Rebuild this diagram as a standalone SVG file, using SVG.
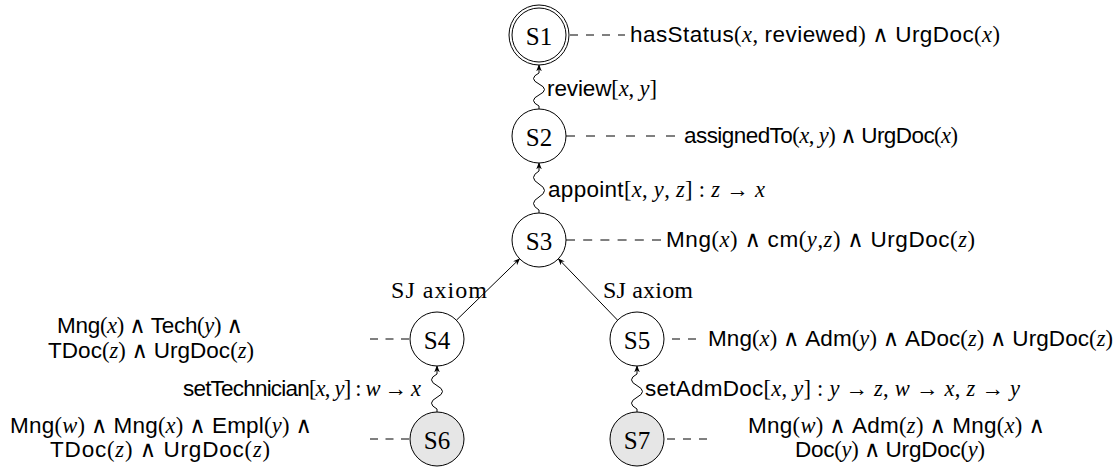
<svg xmlns="http://www.w3.org/2000/svg" width="1119" height="467" viewBox="0 0 1119 467">
<defs>
<style>
.node{fill:#fff;stroke:#000;stroke-width:1}
.init{fill:#e6e6e6;stroke:#000;stroke-width:1}
.nl{font-family:"Liberation Serif",serif;font-size:25px;text-anchor:middle;dominant-baseline:central}
.t{font-family:"Liberation Sans",sans-serif;font-size:22.5px;fill:#000}
.i{font-family:"Liberation Serif",serif;font-style:italic}
.r{font-family:"Liberation Serif","DejaVu Serif",serif}
.s{font-family:"Liberation Serif",serif;font-size:24px;fill:#000}
.dash{fill:none;stroke:#000;stroke-width:1;stroke-dasharray:8 8}
.edge{fill:none;stroke:#000;stroke-width:1}
</style>
<marker id="ah" viewBox="0 0 10 10" refX="9" refY="5" markerWidth="7" markerHeight="7" orient="auto" markerUnits="userSpaceOnUse">
<path d="M0,1 L10,5 L0,9 L3,5 Z" fill="#000"/>
</marker>
</defs>
<rect width="1119" height="467" fill="#fff"/>
<g id="connectors">
<path class="edge" marker-end="url(#ah)" d="M539,109 l0,-3 q-11,-5.5 0,-11 q11,-5.5 0,-11 q-11,-5.5 0,-11 l0,-8"/>
<path class="edge" marker-end="url(#ah)" d="M539,213 l0,-3 q-11,-6.5 0,-13 q11,-6.5 0,-13 q-11,-6.5 0,-13 l0,-8"/>
<path class="edge" marker-end="url(#ah)" d="M437,412 l0,-3 q-11,-5.8 0,-11.7 q11,-5.8 0,-11.7 q-11,-5.8 0,-11.6 l0,-8"/>
<path class="edge" marker-end="url(#ah)" d="M637,412 l0,-3 q-11,-5.8 0,-11.7 q11,-5.8 0,-11.7 q-11,-5.8 0,-11.6 l0,-8"/>
<line class="edge" marker-end="url(#ah)" x1="456.4" y1="320.2" x2="519.6" y2="258.8"/>
<line class="edge" marker-end="url(#ah)" x1="617.6" y1="320.2" x2="558.4" y2="258.8"/>
<line class="dash" x1="570" y1="35" x2="625" y2="35"/>
<line class="dash" style="stroke-dasharray:9 11" x1="566" y1="136" x2="676" y2="136"/>
<line class="dash" style="stroke-dasharray:9 8.2" x1="566" y1="240" x2="661" y2="240"/>
<line class="dash" style="stroke-dasharray:8 7.5" x1="370" y1="339" x2="409" y2="339"/>
<line class="dash" x1="672" y1="339" x2="697" y2="339"/>
<line class="dash" style="stroke-dasharray:8 7.5" x1="370" y1="439" x2="409" y2="439"/>
<line class="dash" x1="667" y1="439" x2="708" y2="439"/>
</g>
<g id="S1"><circle class="node" cx="539" cy="35" r="30"/><circle class="node" cx="539" cy="35" r="27"/><text class="nl" x="539" y="36">S1</text></g>
<g id="S2"><circle class="node" cx="539" cy="136" r="27"/><text class="nl" x="539" y="137">S2</text></g>
<g id="S3"><circle class="node" cx="539" cy="240" r="27"/><text class="nl" x="539" y="241">S3</text></g>
<g id="S4"><circle class="node" cx="437" cy="339" r="27"/><text class="nl" x="437" y="340">S4</text></g>
<g id="S5"><circle class="node" cx="637" cy="339" r="27"/><text class="nl" x="637" y="340">S5</text></g>
<g id="S6"><circle class="init" cx="437" cy="439" r="27"/><text class="nl" x="437" y="440">S6</text></g>
<g id="S7"><circle class="init" cx="637" cy="439" r="27"/><text class="nl" x="637" y="440">S7</text></g>
<g id="labels">
<text class="t" x="630" y="42" textLength="370" lengthAdjust="spacing">hasStatus<tspan class="r">(</tspan><tspan class="i">x</tspan><tspan class="r">, </tspan>reviewed<tspan class="r">) ∧ </tspan>UrgDoc<tspan class="r">(</tspan><tspan class="i">x</tspan><tspan class="r">)</tspan></text>
<text class="t" x="547" y="96" textLength="110" lengthAdjust="spacing">review<tspan class="r">[</tspan><tspan class="i">x</tspan><tspan class="r">, </tspan><tspan class="i">y</tspan><tspan class="r">]</tspan></text>
<text class="t" x="684" y="143" textLength="274" lengthAdjust="spacing">assignedTo<tspan class="r">(</tspan><tspan class="i">x</tspan><tspan class="r">, </tspan><tspan class="i">y</tspan><tspan class="r">) ∧ </tspan>UrgDoc<tspan class="r">(</tspan><tspan class="i">x</tspan><tspan class="r">)</tspan></text>
<text class="t" x="548" y="197" textLength="217" lengthAdjust="spacing">appoint<tspan class="r">[</tspan><tspan class="i">x</tspan><tspan class="r">, </tspan><tspan class="i">y</tspan><tspan class="r">, </tspan><tspan class="i">z</tspan><tspan class="r">] : </tspan><tspan class="i">z</tspan><tspan class="r"> → </tspan><tspan class="i">x</tspan></text>
<text class="t" x="666" y="247" textLength="309" lengthAdjust="spacing">Mng<tspan class="r">(</tspan><tspan class="i">x</tspan><tspan class="r">) ∧ </tspan>cm<tspan class="r">(</tspan><tspan class="i">y</tspan><tspan class="r">,</tspan><tspan class="i">z</tspan><tspan class="r">) ∧ </tspan>UrgDoc<tspan class="r">(</tspan><tspan class="i">z</tspan><tspan class="r">)</tspan></text>
<text class="s" x="487" y="298" text-anchor="end" textLength="96" lengthAdjust="spacing">SJ axiom</text>
<text class="s" x="603" y="298" textLength="90" lengthAdjust="spacing">SJ axiom</text>
<text class="t" x="57" y="333" textLength="186" lengthAdjust="spacing">Mng<tspan class="r">(</tspan><tspan class="i">x</tspan><tspan class="r">) ∧ </tspan>Tech<tspan class="r">(</tspan><tspan class="i">y</tspan><tspan class="r">) ∧</tspan></text>
<text class="t" x="48" y="358" textLength="206" lengthAdjust="spacing">TDoc<tspan class="r">(</tspan><tspan class="i">z</tspan><tspan class="r">) ∧ </tspan>UrgDoc<tspan class="r">(</tspan><tspan class="i">z</tspan><tspan class="r">)</tspan></text>
<text class="t" x="708" y="346" textLength="405" lengthAdjust="spacing">Mng<tspan class="r">(</tspan><tspan class="i">x</tspan><tspan class="r">) ∧ </tspan>Adm<tspan class="r">(</tspan><tspan class="i">y</tspan><tspan class="r">) ∧ </tspan>ADoc<tspan class="r">(</tspan><tspan class="i">z</tspan><tspan class="r">) ∧ </tspan>UrgDoc<tspan class="r">(</tspan><tspan class="i">z</tspan><tspan class="r">)</tspan></text>
<text class="t" x="183" y="396" textLength="238" lengthAdjust="spacing">setTechnician<tspan class="r">[</tspan><tspan class="i">x</tspan><tspan class="r">, </tspan><tspan class="i">y</tspan><tspan class="r">] : </tspan><tspan class="i">w</tspan><tspan class="r"> → </tspan><tspan class="i">x</tspan></text>
<text class="t" x="645" y="396" textLength="375" lengthAdjust="spacing">setAdmDoc<tspan class="r">[</tspan><tspan class="i">x</tspan><tspan class="r">, </tspan><tspan class="i">y</tspan><tspan class="r">] : </tspan><tspan class="i">y</tspan><tspan class="r"> → </tspan><tspan class="i">z</tspan><tspan class="r">, </tspan><tspan class="i">w</tspan><tspan class="r"> → </tspan><tspan class="i">x</tspan><tspan class="r">, </tspan><tspan class="i">z</tspan><tspan class="r"> → </tspan><tspan class="i">y</tspan></text>
<text class="t" x="10" y="433" textLength="302" lengthAdjust="spacing">Mng<tspan class="r">(</tspan><tspan class="i">w</tspan><tspan class="r">) ∧ </tspan>Mng<tspan class="r">(</tspan><tspan class="i">x</tspan><tspan class="r">) ∧ </tspan>Empl<tspan class="r">(</tspan><tspan class="i">y</tspan><tspan class="r">) ∧</tspan></text>
<text class="t" x="50" y="457" textLength="220" lengthAdjust="spacing">TDoc<tspan class="r">(</tspan><tspan class="i">z</tspan><tspan class="r">) ∧ </tspan>UrgDoc<tspan class="r">(</tspan><tspan class="i">z</tspan><tspan class="r">)</tspan></text>
<text class="t" x="748" y="433" textLength="297" lengthAdjust="spacing">Mng<tspan class="r">(</tspan><tspan class="i">w</tspan><tspan class="r">) ∧ </tspan>Adm<tspan class="r">(</tspan><tspan class="i">z</tspan><tspan class="r">) ∧ </tspan>Mng<tspan class="r">(</tspan><tspan class="i">x</tspan><tspan class="r">) ∧</tspan></text>
<text class="t" x="795" y="457" textLength="190" lengthAdjust="spacing">Doc<tspan class="r">(</tspan><tspan class="i">y</tspan><tspan class="r">) ∧ </tspan>UrgDoc<tspan class="r">(</tspan><tspan class="i">y</tspan><tspan class="r">)</tspan></text>
</g>
</svg>
